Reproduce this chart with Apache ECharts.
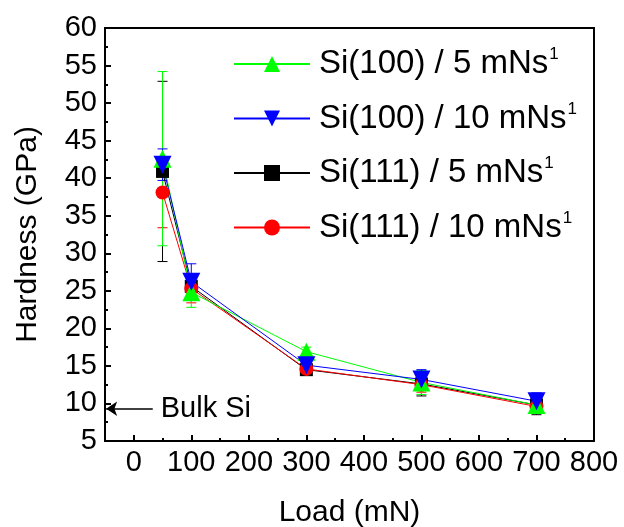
<!DOCTYPE html>
<html>
<head>
<meta charset="utf-8">
<script src="https://cdn.jsdelivr.net/npm/echarts@6/dist/echarts.min.js"></script>
<style>
html,body{margin:0;padding:0;background:#fff;}
#chart{width:624px;height:527px;}
</style>
</head>
<body>
<div id="chart"></div>
<script>
// ---- data ----
const loads = [50, 100, 300, 500, 700];
const seriesNames = ['Si(100) / 5 mNs', 'Si(100) / 10 mNs', 'Si(111) / 5 mNs', 'Si(111) / 10 mNs'];
const si100_5 = [42.6, 24.8, 16.9, 12.8, 9.8];
const si100_5_err = [11.6, 2.0, 0.6, 1.6, 1.0];
const si100_10 = [41.8, 26.2, 15.1, 13.2, 10.3];
const si100_10_err = [2.1, 2.4, 0.6, 1.3, 1.1];
const si111_5 = [40.9, 25.6, 14.5, 12.6, 9.8];
const si111_5_err = [12.0, 1.4, 0.6, 1.6, 1.3];
const si111_10 = [38.1, 25.3, 14.6, 12.5, 9.6];
const si111_10_err = [4.7, 1.9, 0.6, 1.0, 0.7];
const xMajorTicks = [0, 100, 200, 300, 400, 500, 600, 700, 800];
const xMinorTicks = [50, 150, 250, 350, 450, 550, 650, 750];
const bulkSi = 9.3;          // bulk Si hardness marker (GPa)
const bulkArrowFrom = 33;    // arrow tail (mN)
const bulkArrowTo = -48;     // arrow head (mN)
const superscript = '1';

const FONT = '"Liberation Sans", Arial, sans-serif';

const colors = ['#00ff00', '#0000ff', '#000000', '#ff0000'];
const values = [si100_5, si100_10, si111_5, si111_10];
const errs = [si100_5_err, si100_10_err, si111_5_err, si111_10_err];
const symbols = ['triangle', 'triangle', 'rect', 'circle'];
const rotates = [0, 180, 0, 0];
const sizes = [18, 18, 13, 14];

function errSeries(i) {
  const color = colors[i];
  return {
    type: 'custom',
    name: seriesNames[i] + ' err',
    silent: true,
    data: loads.map((x, k) => [x, values[i][k] - errs[i][k], values[i][k] + errs[i][k]]),
    encode: { x: 0, y: [1, 2] },
    renderItem: function (params, api) {
      const x = api.value(0);
      const lo = api.coord([x, api.value(1)]);
      const hi = api.coord([x, api.value(2)]);
      const w = 5;
      const st = { stroke: color, lineWidth: 1 };
      return {
        type: 'group',
        children: [
          { type: 'line', shape: { x1: lo[0], y1: lo[1], x2: hi[0], y2: hi[1] }, style: st },
          { type: 'line', shape: { x1: lo[0] - w, y1: lo[1], x2: lo[0] + w, y2: lo[1] }, style: st },
          { type: 'line', shape: { x1: hi[0] - w, y1: hi[1], x2: hi[0] + w, y2: hi[1] }, style: st }
        ]
      };
    }
  };
}

function lineSeries(i) {
  return {
    type: 'line',
    name: seriesNames[i],
    data: loads.map((x, k) => [x, values[i][k]]),
    symbol: symbols[i],
    symbolSize: sizes[i],
    symbolRotate: rotates[i],
    showAllSymbol: true,
    lineStyle: { color: colors[i], width: 1 },
    itemStyle: { color: colors[i] },
    animation: false
  };
}

const drawOrder = [2, 3, 0, 1];
const series = [];
drawOrder.forEach(i => series.push(errSeries(i)));
drawOrder.forEach(i => series.push(lineSeries(i)));
// bulk Si annotation
series[4].markLine = {
  silent: true,
  symbol: ['none', 'arrow'],
  symbolSize: 11,
  animation: false,
  lineStyle: { color: '#000', width: 1.5, type: 'solid' },
  label: { show: true, position: 'start', formatter: 'Bulk Si', fontSize: 29, color: '#000', fontFamily: FONT, distance: 8 },
  data: [[{ coord: [bulkArrowFrom, bulkSi] }, { coord: [bulkArrowTo, bulkSi] }]]
};

const tickLabelStyle = { fontSize: 29, color: '#000', fontFamily: FONT };
const option = {
  animation: false,
  backgroundColor: '#fff',
  grid: { left: 105, right: 30, top: 28, bottom: 86, show: true, borderColor: '#000', borderWidth: 2, containLabel: false, outerBoundsMode: 'none' },
  legend: {
    data: seriesNames,
    orient: 'vertical',
    left: 228, top: 41,
    itemWidth: 76, itemHeight: 20,
    itemGap: 20,
    formatter: name => '{a|' + name + '}{s|' + superscript + '}',
    textStyle: {
      rich: {
        a: { fontSize: 33, color: '#000', fontFamily: FONT, lineHeight: 36, padding: [0, 0, 0, 4] },
        s: { fontSize: 17, color: '#000', fontFamily: FONT, lineHeight: 36, verticalAlign: 'top', padding: [0, 0, 12, 1] }
      }
    }
  },
  xAxis: [{
    type: 'value', min: -50, max: 800,
    name: 'Load (mN)', nameLocation: 'middle', nameGap: 57,
    nameTextStyle: { fontSize: 30, color: '#000', fontFamily: FONT },
    axisLine: { show: true, onZero: false, lineStyle: { color: '#000', width: 2 } },
    axisTick: { show: true, inside: true, length: 6, customValues: xMajorTicks, lineStyle: { color: '#000', width: 2 } },
    axisLabel: Object.assign({ customValues: xMajorTicks, margin: 7 }, tickLabelStyle),
    splitLine: { show: false }
  }, {
    type: 'value', min: -50, max: 800, position: 'bottom',
    axisLine: { show: false },
    axisTick: { show: true, inside: true, length: 3, customValues: xMinorTicks, lineStyle: { color: '#000', width: 2 } },
    axisLabel: { show: false },
    splitLine: { show: false }
  }],
  yAxis: {
    type: 'value', min: 5, max: 60, interval: 5,
    name: 'Hardness (GPa)', nameLocation: 'middle', nameGap: 62,
    nameTextStyle: { fontSize: 30, color: '#000', fontFamily: FONT },
    axisLine: { show: true, onZero: false, lineStyle: { color: '#000', width: 2 } },
    axisTick: { show: true, inside: true, length: 6, lineStyle: { color: '#000', width: 2 } },
    minorTick: { show: true, splitNumber: 2, length: 3, lineStyle: { color: '#000', width: 2 } },
    axisLabel: Object.assign({ margin: 8 }, tickLabelStyle),
    splitLine: { show: false }
  },
  series: series
};

const chart = echarts.init(document.getElementById('chart'), null, { renderer: 'canvas' });
chart.setOption(option);
</script>
</body>
</html>
